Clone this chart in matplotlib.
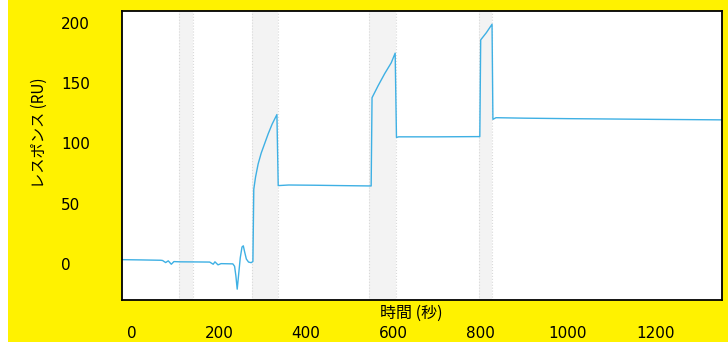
# 필요 라이브러리 임포트
import matplotlib
matplotlib.use('Agg')
import matplotlib.pyplot as plt
from matplotlib.patches import Rectangle

plt.rcParams['font.family'] = ['Noto Sans CJK JP', 'DejaVu Sans']

# センサーグラム (時間 [秒], レスポンス [RU])
time_s = [-22, 20, 67, 71, 78, 84, 91, 97, 111, 150, 179, 187, 191, 198, 205, 232,
          236, 239, 242, 245, 249, 253, 256, 259, 263, 268, 274, 278,
          280, 284, 290, 297, 305, 313, 322, 333,
          336, 360, 420, 480, 549,
          551, 565, 580, 595, 604,
          607, 612, 700, 798,
          800, 813, 826,
          828, 835, 900, 1000, 1100, 1200, 1353]
response_ru = [3.5, 3.3, 3.0, 2.8, 1.1, 2.5, -0.3, 1.9, 1.7, 1.6, 1.5, -0.3, 1.7, -0.8, 0.2, 0.0,
               -2, -10, -21, -10, 5, 14, 15, 10, 4, 1.5, 1.0, 2.0,
               62, 72, 83, 92, 100, 108, 116, 124,
               65, 65.5, 65.3, 65.0, 64.7,
               138, 148, 158, 167, 175,
               105, 105.5, 105.5, 105.7,
               186, 192, 199,
               120, 121.4, 121.0, 120.6, 120.3, 120.0, 119.6]

# 注入区間
band_start = [109, 276, 544, 797]
band_end = [141, 336, 605, 827]

x_ticks = [0, 200, 400, 600, 800, 1000, 1200]
y_ticks = [0, 50, 100, 150, 200]

fig = plt.figure(figsize=(7.28, 3.42), dpi=100, facecolor='#fff200')
fig.patches.append(Rectangle((0, 0), 8 / 728, 1, transform=fig.transFigure,
                             facecolor='white', edgecolor='none', zorder=0))
ax = fig.add_axes([122 / 728, (342 - 300) / 342, 600 / 728, 289 / 342])
ax.set_facecolor('white')

for s, e in zip(band_start, band_end):
    ax.axvspan(s, e, color='#f3f3f3', lw=0, zorder=0)
    ax.axvline(s, color='#d9d9d9', lw=0.8, ls=':', zorder=0.5)
    ax.axvline(e, color='#d9d9d9', lw=0.8, ls=':', zorder=0.5)

ax.plot(time_s, response_ru, color='#3eb0e4', lw=1.0)

ax.set_xlim(-22, 1353)
ax.set_ylim(-30, 210)
ax.set_xticks(x_ticks)
ax.set_yticks(y_ticks)

# 目盛りは線なし、ラベルだけ離して置く
ax.tick_params(axis='x', length=0, pad=19, labelsize=11)
ax.tick_params(axis='y', length=0, pad=44, labelsize=11)
for lab in ax.get_xticklabels() + ax.get_yticklabels():
    lab.set_fontfamily('DejaVu Sans')
for lab in ax.get_yticklabels():
    lab.set_horizontalalignment('left')

for sp in ax.spines.values():
    sp.set_color('black')
    sp.set_linewidth(1.3)

ax.set_xlabel('時間 (秒)', fontsize=11.5)
ax.xaxis.label.set_va('center')
ax.xaxis.set_label_coords(0.483, -0.045)
ax.set_ylabel('レスポンス (RU)', fontsize=11)
ax.yaxis.label.set_va('center')
ax.yaxis.set_label_coords(-0.138, 0.578)

fig.savefig('out.png', dpi=100, facecolor=fig.get_facecolor())
